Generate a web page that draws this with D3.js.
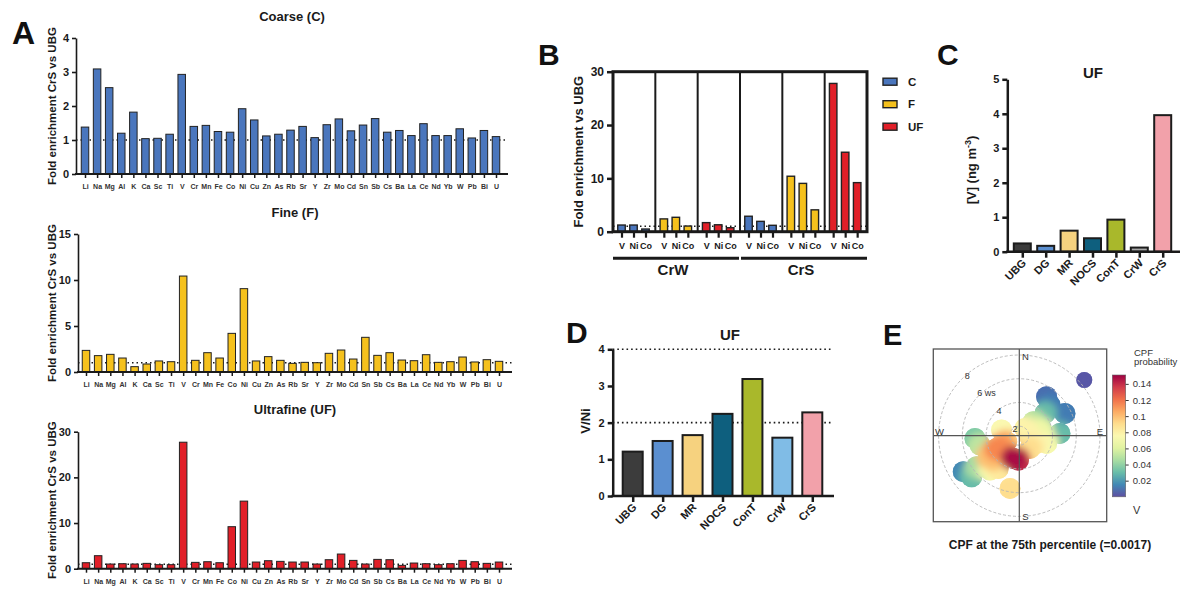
<!DOCTYPE html>
<html lang="en">
<head>
<meta charset="utf-8">
<script src="https://cdn.jsdelivr.net/npm/d3@7"></script>
<style>
  body { margin: 0; background: #fff; }
  svg { font-family: "Liberation Sans", Arial, Helvetica, sans-serif; }
</style>
</head>
<body>
<svg id="fig" width="1200" height="590"></svg>
<script>
// ---- panel A : fold enrichment CrS vs UBG per element
const elements = ["Li","Na","Mg","Al","K","Ca","Sc","Ti","V","Cr","Mn","Fe","Co","Ni","Cu",
  "Zn","As","Rb","Sr","Y","Zr","Mo","Cd","Sn","Sb","Cs","Ba","La","Ce","Nd","Yb","W","Pb","Bi","U"];
const coarse = [1.38,3.09,2.54,1.20,1.82,1.04,1.05,1.17,2.93,1.40,1.43,1.25,1.23,1.92,1.59,
  1.12,1.17,1.29,1.40,1.07,1.45,1.62,1.27,1.44,1.63,1.23,1.28,1.13,1.48,1.13,1.13,1.33,1.06,1.28,1.10];
const fine = [2.35,1.78,1.92,1.52,0.58,0.87,1.20,1.12,10.43,1.27,2.10,1.52,4.20,9.06,1.20,
  1.67,1.27,0.94,1.05,1.01,2.03,2.39,1.41,3.77,1.81,2.10,1.30,1.23,1.88,1.05,1.12,1.63,1.09,1.34,1.16];
const ultrafine = [1.31,2.85,1.02,1.09,1.02,1.17,0.88,0.88,27.7,1.39,1.53,1.31,9.2,14.8,1.46,
  1.75,1.61,1.46,1.46,1.02,1.97,3.21,1.82,1.02,2.04,1.97,0.73,1.24,1.09,0.88,1.09,1.82,1.53,1.17,1.46];

// ---- panel B : V, Ni, Co enrichment vs UBG
const bMetals = ["V","Ni","Co"];
const bSites = ["CrW","CrS"];
const bSizes = ["C","F","UF"];
const crwC = [1.25,1.25,0.5], crwF = [2.4,2.7,1.06], crwUF = [1.7,1.3,0.75];
const crsC = [2.9,1.94,1.2], crsF = [10.4,9.06,4.1], crsUF = [27.8,14.9,9.2];

// ---- panels C, D : UF by site
const sites = ["UBG","DG","MR","NOCS","ConT","CrW","CrS"];
const vConc = [0.24,0.17,0.61,0.39,0.93,0.12,3.96];
const vNiRatio = [1.21,1.50,1.66,2.24,3.19,1.59,2.28];

// ---- panel E : CPF polar plot (wind direction deg, wind speed, probability)
const cpfDir = [49.4,35,45,49,64,86.8,45,75.7,105.7,95,288,244.7,240.8,194.8,182,228.9,266.5,
  256.7,220.5,234,237.3,229.3,190,212.7,140,38,235.9,242.3,114];
const cpfWs = [8.41,5.21,4.86,4.06,5.48,4.63,2.87,3.14,3.59,2.1,2.77,2.38,3.39,3.18,3.25,4.1,4.94,
  4.6,5.0,5.65,6.81,6.5,5.71,4.48,2.6,1.98,4.35,2.88,2.8];
const cpfVal = [0.002,0.008,0.012,0.03,0.012,0.03,0.05,0.065,0.07,0.08,0.075,0.1,0.115,0.148,0.14,0.1,0.035,
  0.05,0.07,0.045,0.015,0.03,0.09,0.085,0.09,0.08,0.1,0.11,0.08];
const cpfTicks = [0.02,0.04,0.06,0.08,0.1,0.12,0.14];
const wsRings = [2,4,6,8];

const sizeColor = { C: "#4a76bd", F: "#f5c11d", UF: "#e11f28" };
const siteColorC = ["#3c3c3c","#5b8fd0","#f6d27f","#0e5f7e","#a9b82b","#a8a8a8","#f2a1aa"];
const siteColorD = ["#3c3c3c","#5b8fd0","#f6d27f","#0e5f7e","#a9b82b","#80bce6","#f2a1aa"];
const INK = "#1a1a1a";

const svg = d3.select("#fig");

function styleAxis(g, fs, sw) {
  g.attr("font-family", null).attr("font-size", fs).attr("font-weight", "bold");
  g.selectAll("line").attr("stroke", INK).attr("stroke-width", sw);
  g.selectAll("path.domain").attr("stroke", INK).attr("stroke-width", sw);
  g.selectAll("text").attr("fill", INK);
}

function panelLetter(t, x, y, fs) {
  svg.append("text").attr("x", x).attr("y", y).attr("font-size", fs || 30)
    .attr("font-weight", "bold").attr("fill", "#111").text(t);
}

// ================= A =================
const panelsA = [
  { vals: coarse, color: sizeColor.C, title: "Coarse (C)", titleY: 21, y0: 174, y1: 38, max: 4,
    ticks: [0,1,2,3,4], ax: 76, xEnd: 508, first: 85, last: 496 },
  { vals: fine, color: sizeColor.F, title: "Fine (F)", titleY: 217, y0: 372, y1: 234, max: 15,
    ticks: [0,5,10,15], ax: 78, xEnd: 512, first: 86, last: 499 },
  { vals: ultrafine, color: sizeColor.UF, title: "Ultrafine (UF)", titleY: 414, y0: 568.7, y1: 431.7, max: 30,
    ticks: [0,10,20,30], ax: 78, xEnd: 512, first: 86, last: 499 }
];

panelsA.forEach(p => {
  const x = d3.scalePoint().domain(elements).range([p.first, p.last]);
  const y = d3.scaleLinear().domain([0, p.max]).range([p.y0, p.y1]);
  const g = svg.append("g");

  g.append("line").attr("x1", p.ax).attr("x2", p.xEnd).attr("y1", y(1)).attr("y2", y(1))
    .attr("stroke", INK).attr("stroke-width", 1.5).attr("stroke-dasharray", "1.5,3");

  g.selectAll("rect.bar").data(p.vals).join("rect").attr("class", "bar")
    .attr("x", (d, i) => x(elements[i]) - 3.75).attr("width", 7.5)
    .attr("y", d => y(d)).attr("height", d => p.y0 - y(d))
    .attr("fill", p.color).attr("stroke", "#222").attr("stroke-width", 1);

  const ya = g.append("g").attr("transform", `translate(${p.ax},0)`)
    .call(d3.axisLeft(y).tickValues(p.ticks).tickFormat(d3.format("d"))
      .tickSize(4).tickSizeOuter(0).tickPadding(3));
  styleAxis(ya, 11, 1.6);

  const xa = g.append("g").attr("transform", `translate(0,${p.y0})`)
    .call(d3.axisBottom(x).tickSize(4).tickPadding(6));
  xa.select(".domain").remove();
  styleAxis(xa, 7, 1.5);
  xa.selectAll("text").attr("fill", "#333");
  g.append("line").attr("x1", p.ax - 1).attr("x2", p.xEnd).attr("y1", p.y0).attr("y2", p.y0)
    .attr("stroke", INK).attr("stroke-width", 2);

  g.append("text").attr("x", (p.ax + p.xEnd) / 2).attr("y", p.titleY).attr("text-anchor", "middle")
    .attr("font-size", 13).attr("font-weight", "bold").attr("fill", INK).text(p.title);

  g.append("text").attr("transform", `translate(56,${(p.y0 + p.y1) / 2}) rotate(-90)`)
    .attr("text-anchor", "middle").attr("font-size", 11.5).attr("font-weight", "bold").attr("fill", INK)
    .text("Fold enrichment CrS vs UBG");
});
panelLetter("A", 12, 44, 32);

// ================= B =================
const bVals = { CrW: { C: crwC, F: crwF, UF: crwUF }, CrS: { C: crsC, F: crsF, UF: crsUF } };
const bGroups = [];
bSites.forEach(s => bSizes.forEach(z => bGroups.push({ key: s + "-" + z, site: s, size: z, vals: bVals[s][z] })));

const bL = 613, bR = 867, bTop = 71.7, bBot = 231.7;
const xb0 = d3.scaleBand().domain(bGroups.map(d => d.key)).range([bL, bR]);
const xb1 = d3.scalePoint().domain(bMetals).range([8.5, 32.5]);
const yb = d3.scaleLinear().domain([0, 30]).range([bBot, bTop]);
const gB = svg.append("g");

gB.append("line").attr("x1", bL).attr("x2", bR).attr("y1", yb(1)).attr("y2", yb(1))
  .attr("stroke", INK).attr("stroke-width", 1.5).attr("stroke-dasharray", "1.5,3");

bGroups.forEach(gr => {
  const gg = gB.append("g").attr("transform", `translate(${xb0(gr.key)},0)`);
  gg.selectAll("rect").data(gr.vals).join("rect")
    .attr("x", (d, i) => xb1(bMetals[i]) - 3.75).attr("width", 7.5)
    .attr("y", d => yb(d)).attr("height", d => bBot - yb(d))
    .attr("fill", sizeColor[gr.size]).attr("stroke", "#222").attr("stroke-width", 1.4);
  const xa = gg.append("g").attr("transform", `translate(0,${bBot})`)
    .call(d3.axisBottom(xb1).tickSize(6).tickPadding(5));
  xa.select(".domain").remove();
  styleAxis(xa, 9, 2.2);
});

// separators and frame
bGroups.slice(1).forEach(gr => {
  gB.append("line").attr("x1", xb0(gr.key)).attr("x2", xb0(gr.key)).attr("y1", bTop).attr("y2", bBot)
    .attr("stroke", INK).attr("stroke-width", 2);
});
gB.append("rect").attr("x", bL).attr("y", bTop).attr("width", bR - bL).attr("height", bBot - bTop)
  .attr("fill", "none").attr("stroke", INK).attr("stroke-width", 3);

const ybAxis = gB.append("g").attr("transform", `translate(${bL},0)`)
  .call(d3.axisLeft(yb).tickValues([0,10,20,30]).tickSize(6).tickSizeOuter(0).tickPadding(3));
ybAxis.select(".domain").remove();
styleAxis(ybAxis, 12, 2.5);

// site brackets
bSites.forEach((s, k) => {
  const keys = bGroups.filter(d => d.site === s).map(d => d.key);
  const x1 = xb0(keys[0]) + (k ? 1 : 0), x2 = xb0(keys[keys.length - 1]) + xb0.bandwidth() - (k ? 0 : 1);
  gB.append("line").attr("x1", x1).attr("x2", x2).attr("y1", 258.3).attr("y2", 258.3)
    .attr("stroke", INK).attr("stroke-width", 3);
  gB.append("text").attr("x", (x1 + x2) / 2 - 3).attr("y", 275).attr("text-anchor", "middle")
    .attr("font-size", 15).attr("font-weight", "bold").attr("fill", INK).text(s);
});

gB.append("text").attr("transform", `translate(583,${(bTop + bBot) / 2}) rotate(-90)`)
  .attr("text-anchor", "middle").attr("font-size", 13).attr("font-weight", "bold").attr("fill", INK)
  .text("Fold enrichment vs UBG");

// legend
const leg = gB.append("g").attr("transform", "translate(883,81.7)");
bSizes.forEach((z, i) => {
  leg.append("rect").attr("x", 0).attr("y", i * 22.5 - 3.5).attr("width", 14).attr("height", 7)
    .attr("fill", sizeColor[z]).attr("stroke", "#222").attr("stroke-width", 1.4);
  leg.append("text").attr("x", 25).attr("y", i * 22.5 + 4).attr("font-size", 11.5)
    .attr("font-weight", "bold").attr("fill", INK).text(z);
});
panelLetter("B", 538, 65);

// ================= C & D =================
function siteBars(cfg) {
  const x = d3.scalePoint().domain(sites).range([cfg.first, cfg.last]);
  const y = d3.scaleLinear().domain([0, cfg.max]).range([cfg.y0, cfg.y1]);
  const g = svg.append("g");
  (cfg.refs || []).forEach(r => {
    g.append("line").attr("x1", cfg.ax).attr("x2", cfg.refEnd).attr("y1", y(r)).attr("y2", y(r))
      .attr("stroke", INK).attr("stroke-width", 1.6).attr("stroke-dasharray", "1.6,3");
  });
  g.selectAll("rect").data(cfg.vals).join("rect")
    .attr("x", (d, i) => x(sites[i]) - cfg.bw / 2).attr("width", cfg.bw)
    .attr("y", d => y(d)).attr("height", d => cfg.y0 - y(d))
    .attr("fill", (d, i) => cfg.colors[i]).attr("stroke", "#1c1c1c").attr("stroke-width", 2);

  const ya = g.append("g").attr("transform", `translate(${cfg.ax},0)`)
    .call(d3.axisLeft(y).ticks(cfg.max).tickSize(5).tickSizeOuter(0).tickPadding(3));
  styleAxis(ya, 11, 2.5);

  const xa = g.append("g").attr("transform", `translate(0,${cfg.y0})`)
    .call(d3.axisBottom(x).tickSize(6));
  xa.select(".domain").remove();
  styleAxis(xa, 11, 2.5);
  xa.selectAll("text").attr("y", 0).attr("dy", null).attr("text-anchor", "end")
    .attr("transform", "translate(4,12) rotate(-45)");
  g.append("line").attr("x1", cfg.ax - 1.2).attr("x2", cfg.xEnd).attr("y1", cfg.y0).attr("y2", cfg.y0)
    .attr("stroke", INK).attr("stroke-width", 2.6);

  g.append("text").attr("x", cfg.titleX).attr("y", cfg.titleY).attr("text-anchor", "middle")
    .attr("font-size", 15).attr("font-weight", "bold").attr("fill", INK).text("UF");
  return g;
}

const gC = siteBars({ vals: vConc, colors: siteColorC, ax: 1007.3, xEnd: 1180, y0: 251.7, y1: 79.3, max: 5,
  first: 1022.3, last: 1162.7, bw: 17, titleX: 1093, titleY: 78 });
const cLab = gC.append("text").attr("transform", "translate(976,170) rotate(-90)")
  .attr("text-anchor", "middle").attr("font-size", 13).attr("font-weight", "bold").attr("fill", INK);
cLab.append("tspan").text("[V] (ng m");
cLab.append("tspan").attr("baseline-shift", "super").attr("font-size", 9).text("-3");
cLab.append("tspan").text(")");
panelLetter("C", 937, 65);

const gD = siteBars({ vals: vNiRatio, colors: siteColorD, ax: 612.7, xEnd: 834, y0: 496, y1: 349.3, max: 4,
  first: 632.7, last: 812.3, bw: 20, refs: [2, 4], refEnd: 831, titleX: 730, titleY: 340 });
gD.append("text").attr("transform", "translate(590,421) rotate(-90)")
  .attr("text-anchor", "middle").attr("font-size", 13).attr("font-weight", "bold").attr("fill", INK)
  .text("V/Ni");
panelLetter("D", 566, 343);

// ================= E =================
const cx = 1019.3, cy = 435.7;
const fL = 933.3, fR = 1106.7, fT = 349, fB = 521.7;
const rs = d3.scaleLinear().domain([2, 8]).range([9.5, 80.7]);
const cpfMax = 0.151;
const cpfColor = d3.scaleSequential(t => d3.interpolateSpectral(1 - t)).domain([0, cpfMax]);
const gE = svg.append("g");
const defs = svg.append("defs");
defs.append("clipPath").attr("id", "eclip").append("rect")
  .attr("x", fL).attr("y", fT).attr("width", fR - fL).attr("height", fB - fT);
defs.append("filter").attr("id", "eblur").attr("x", "-50%").attr("y", "-50%").attr("width", "200%").attr("height", "200%")
  .append("feGaussianBlur").attr("stdDeviation", 3.5);

const blobs = cpfVal.map((v, i) => {
  const a = cpfDir[i] * Math.PI / 180, r = rs(cpfWs[i]);
  return { v, x: cx + r * Math.sin(a), y: cy - r * Math.cos(a), rad: v < 0.005 ? 8 : 10.5 };
}).sort((a, b) => a.v - b.v);

const mask = defs.append("mask").attr("id", "emask");
mask.selectAll("circle").data(blobs).join("circle")
  .attr("cx", d => d.x).attr("cy", d => d.y).attr("r", d => d.rad).attr("fill", "#fff");

const plotE = gE.append("g").attr("clip-path", "url(#eclip)");
plotE.append("g").selectAll("circle").data(blobs).join("circle")
  .attr("cx", d => d.x).attr("cy", d => d.y).attr("r", d => d.rad).attr("fill", d => cpfColor(d.v));
plotE.append("g").attr("mask", "url(#emask)").append("g").attr("filter", "url(#eblur)")
  .selectAll("circle").data(blobs).join("circle")
  .attr("cx", d => d.x).attr("cy", d => d.y).attr("r", d => d.rad + 2).attr("fill", d => cpfColor(d.v));

plotE.selectAll("circle.ring").data(wsRings).join("circle").attr("class", "ring")
  .attr("cx", cx).attr("cy", cy).attr("r", d => rs(d))
  .attr("fill", "none").attr("stroke", "#b5b5b5").attr("stroke-width", 0.9).attr("stroke-dasharray", "3,2");

gE.append("line").attr("x1", fL).attr("x2", fR).attr("y1", cy).attr("y2", cy).attr("stroke", "#555").attr("stroke-width", 1.2);
gE.append("line").attr("x1", cx).attr("x2", cx).attr("y1", fT).attr("y2", fB).attr("stroke", "#555").attr("stroke-width", 1.2);
gE.append("rect").attr("x", fL).attr("y", fT).attr("width", fR - fL).attr("height", fB - fT)
  .attr("fill", "none").attr("stroke", "#555").attr("stroke-width", 1.3);

const compass = [["N", 1025.5, 360], ["E", 1100, 434.5], ["W", 939.5, 434.5], ["S", 1025.5, 520]];
compass.forEach(c => gE.append("text").attr("x", c[1]).attr("y", c[2]).attr("text-anchor", "middle")
  .attr("font-size", 9.5).attr("fill", "#333").text(c[0]));

const labA = -42 * Math.PI / 180;
wsRings.forEach(w => {
  const r = rs(w);
  gE.append("text").attr("x", cx + r * Math.sin(labA) + (w === 6 ? -4 : 2)).attr("y", cy - r * Math.cos(labA) + 3)
    .attr("text-anchor", w === 6 ? "start" : "middle").attr("font-size", 9).attr("fill", "#333")
    .text(w === 6 ? "6 ws" : w);
});

// colour bar
const cbX = 1112.3, cbW = 13.4, cbTop = 375, cbBot = 496.8;
const cbY = d3.scaleLinear().domain([0, cpfMax]).range([cbBot, cbTop]);
const grad = defs.append("linearGradient").attr("id", "cbgrad").attr("x1", 0).attr("x2", 0).attr("y1", 1).attr("y2", 0);
d3.range(0, 1.0001, 0.1).forEach(t => grad.append("stop").attr("offset", t).attr("stop-color", cpfColor(t * cpfMax)));
gE.append("rect").attr("x", cbX).attr("y", cbTop).attr("width", cbW).attr("height", cbBot - cbTop)
  .attr("fill", "url(#cbgrad)").attr("stroke", "#666").attr("stroke-width", 0.6);
const cbAxis = gE.append("g").attr("transform", `translate(${cbX + cbW},0)`)
  .call(d3.axisRight(cbY).tickValues(cpfTicks).tickSize(3).tickPadding(4).tickFormat(d => String(+d.toFixed(2))));
cbAxis.select(".domain").remove();
cbAxis.attr("font-family", null).attr("font-size", 9.5);
cbAxis.selectAll("line").attr("stroke", "#333");
cbAxis.selectAll("text").attr("fill", "#333");

gE.append("text").attr("x", 1134).attr("y", 356).attr("font-size", 9.5).attr("fill", "#333").text("CPF");
gE.append("text").attr("x", 1134).attr("y", 365).attr("font-size", 9.5).attr("fill", "#333").text("probability");
gE.append("text").attr("x", 1133).attr("y", 514).attr("font-size", 11).attr("fill", "#333").text("V");
gE.append("text").attr("x", 1050).attr("y", 549).attr("text-anchor", "middle").attr("font-size", 12)
  .attr("font-weight", "bold").attr("fill", INK).text("CPF at the 75th percentile (=0.0017)");
panelLetter("E", 883, 345, 29);
</script>
</body>
</html>
